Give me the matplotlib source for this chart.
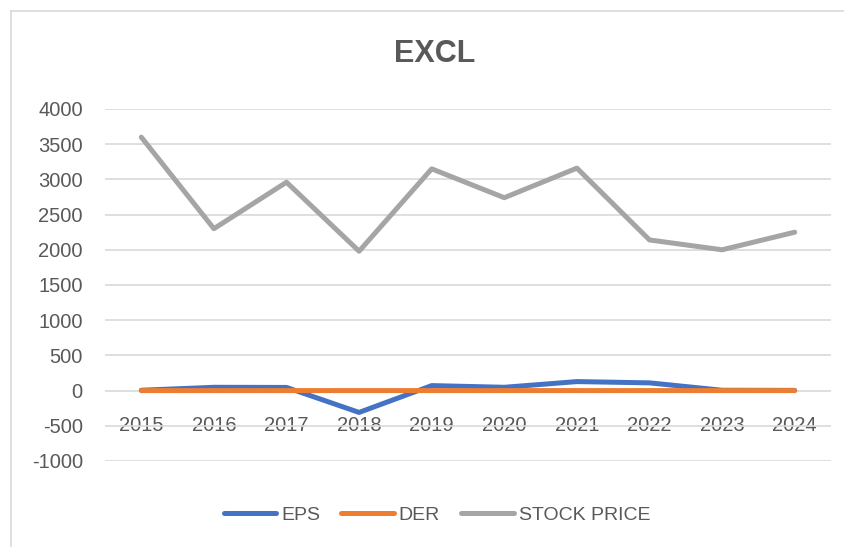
import matplotlib.pyplot as plt
from matplotlib.lines import Line2D

years = ['2015', '2016', '2017', '2018', '2019', '2020', '2021', '2022', '2023', '2024']
eps = [5, 47, 45, -310, 71, 47, 128, 110, 5, 3]
der = [0.2, 0.2, 0.2, 0.3, 0.2, 0.2, 0.2, 0.2, 0.3, 0.3]
stock_price = [3600, 2300, 2960, 1980, 3150, 2740, 3160, 2140, 2000, 2250]
yticks = [-1000, -500, 0, 500, 1000, 1500, 2000, 2500, 3000, 3500, 4000]

plt.rcParams['font.family'] = ['Liberation Sans', 'DejaVu Sans']
txt = '#595959'

fig = plt.figure(figsize=(8.45, 5.47), dpi=100)
W, H = 845, 547
ax = fig.add_axes([105 / W, 1 - 461 / H, (831 - 105) / W, (461 - 109) / H])

# chart border: only top and left edges are inside the screenshot
fig.add_artist(Line2D([11 / W, 1.0], [1 - 11 / H, 1 - 11 / H], transform=fig.transFigure,
                      color='#D9D9D9', linewidth=1.2))
fig.add_artist(Line2D([11 / W, 11 / W], [0.0, 1 - 11 / H], transform=fig.transFigure,
                      color='#D9D9D9', linewidth=1.2))

x = range(len(years))
ax.plot(x, eps, color='#4472C4', linewidth=3.6, solid_capstyle='round', solid_joinstyle='round', label='EPS')
ax.plot(x, der, color='#ED7D31', linewidth=3.6, solid_capstyle='round', solid_joinstyle='round', label='DER')
ax.plot(x, stock_price, color='#A5A5A5', linewidth=3.6, solid_capstyle='round', solid_joinstyle='round', label='STOCK PRICE')

ax.set_xlim(-0.5, len(years) - 0.5)
ax.set_ylim(-1000, 4000)
ax.set_yticks(yticks)
ax.set_yticklabels([str(v) for v in yticks])
ax.set_xticks(list(x))
ax.set_xticklabels(years)

ax.grid(axis='y', color='#D9D9D9', linewidth=1.2)
ax.set_axisbelow(True)
for s in ['top', 'right', 'left']:
    ax.spines[s].set_visible(False)
ax.spines['bottom'].set_position(('data', 0))
ax.spines['bottom'].set_visible(False)
ax.tick_params(axis='x', length=0, pad=18, labelsize=14.5, labelcolor=txt)
ax.tick_params(axis='y', length=0, pad=16, labelsize=14.5, labelcolor=txt)

fig.text(435 / W, 1 - 54 / H, 'EXCL', ha='center', va='center',
         fontsize=22, fontweight='bold', color=txt)

fig.legend(loc='center', bbox_to_anchor=(437 / W, 1 - 515 / H), ncol=3,
           frameon=False, fontsize=14, labelcolor=txt, handlelength=2.7,
           handletextpad=0.25, columnspacing=1.1)

fig.savefig('out.png', dpi=100)
